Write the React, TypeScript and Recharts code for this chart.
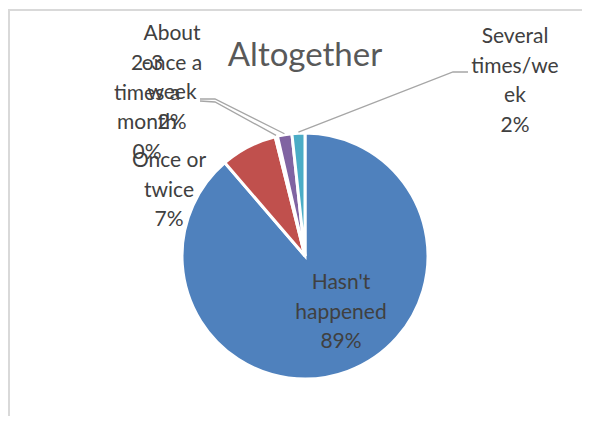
import { PieChart, Pie, Cell } from "recharts";

const CATEGORIES = [
  "Hasn't happened",
  "Once or twice",
  "2-3 times a month",
  "About once a week",
  "Several times/week",
];
const SHARES = [88.7, 7.4, 0.3, 1.9, 1.7];
// how the category names wrap inside the label boxes
const LABEL_LINES = [
  ["Hasn't", "happened"],
  ["Once or", "twice"],
  ["2-3", "times a", "month"],
  ["About", "once a", "week"],
  ["Several", "times/we", "ek"],
];
const COLORS = ["#4F81BD", "#C0504D", "#9BBB59", "#8064A2", "#4BACC6"];

// label placement (svg coords); leader = points after the slice edge
const LABEL_BOX: { x: number; y: number; leader?: number[][] }[] = [
  { x: 331, y: 278 },
  { x: 159, y: 156 },
  { x: 137, y: 59, leader: [[205, 91], [190, 90]] },
  { x: 162, y: 29, leader: [[205, 88], [190, 88]] },
  { x: 505, y: 32, leader: [[443, 61], [458, 61]] },
];

const LINE_H = 29.5;
const FONT = "Lato, 'Open Sans', sans-serif";

const data = CATEGORIES.map((name, i) => ({ name, value: SHARES[i] }));

const renderLabel = (props: any) => {
  const { cx, cy, midAngle, outerRadius, percent, index } = props;
  const box = LABEL_BOX[index];
  const lines = [...LABEL_LINES[index], `${Math.round(percent * 100)}%`];
  let points = "";
  if (box.leader) {
    const rad = (-midAngle * Math.PI) / 180;
    const ex = cx + (outerRadius + 1) * Math.cos(rad);
    const ey = cy + (outerRadius + 1) * Math.sin(rad);
    points = [[ex, ey], ...box.leader].map((p) => p.join(",")).join(" ");
  }
  return (
    <g key={`lbl-${index}`}>
      {points && (
        <polyline points={points} fill="none" stroke="#a6a6a6" strokeWidth={1.3} />
      )}
      <text
        x={box.x}
        y={box.y}
        textAnchor="middle"
        fill="#404040"
        fontSize={21}
        fontFamily={FONT}
      >
        {lines.map((l, i) => (
          <tspan key={i} x={box.x} dy={i === 0 ? 0 : LINE_H}>
            {l}
          </tspan>
        ))}
      </text>
    </g>
  );
};

export default function App() {
  return (
    <div
      style={{
        position: "relative",
        marginTop: 1,
        width: 580,
        height: 405,
        borderTop: "2px solid #d9d9d9",
        borderLeft: "2px solid #d9d9d9",
      }}
    >
      <div
        style={{
          position: "absolute",
          left: 0,
          top: 26,
          width: 590,
          textAlign: "center",
          fontFamily: FONT,
          fontSize: 33,
          lineHeight: "33px",
          color: "#595959",
        }}
      >
        Altogether
      </div>
      <PieChart width={580} height={405}>
        <Pie
          data={data}
          dataKey="value"
          nameKey="name"
          cx={290}
          cy={240}
          outerRadius={123}
          startAngle={90}
          endAngle={-270}
          stroke="#ffffff"
          strokeWidth={3}
          labelLine={false}
          label={renderLabel}
          isAnimationActive={false}
        >
          {data.map((d, i) => (
            <Cell key={d.name} fill={COLORS[i]} />
          ))}
        </Pie>
      </PieChart>
    </div>
  );
}
